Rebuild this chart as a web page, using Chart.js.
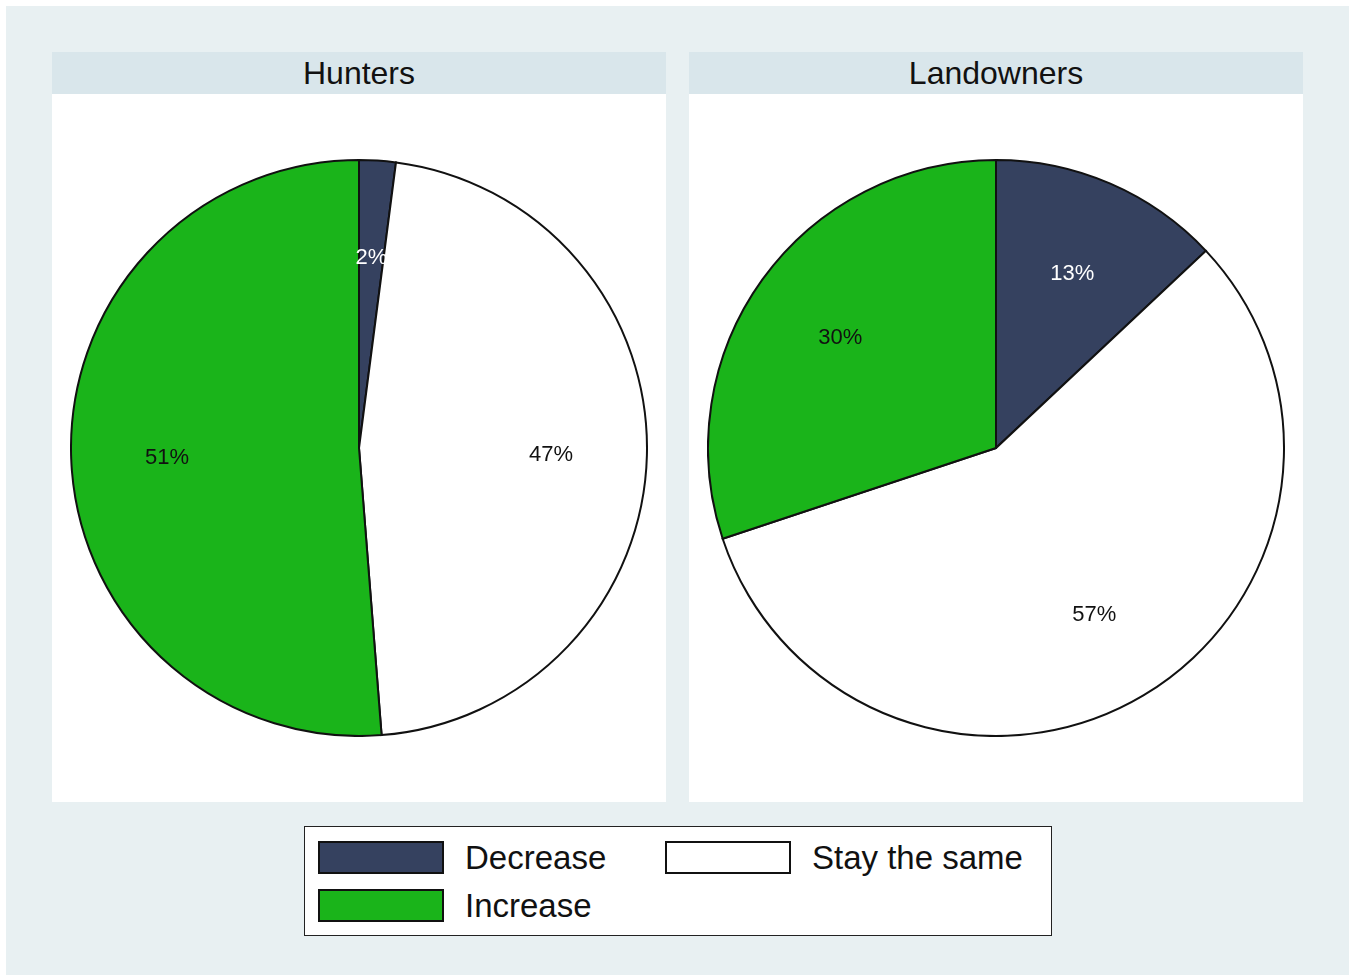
<!DOCTYPE html>
<html>
<head>
<meta charset="utf-8">
<script src="https://cdn.jsdelivr.net/npm/chart.js@4.4.1/dist/chart.umd.min.js"></script>
<style>
  body { margin: 0; background: #fff; font-family: Arial, "Liberation Sans", sans-serif; }
  #outer { position: absolute; left: 6px; top: 6px; width: 1343px; height: 969px; background: #e8f0f2; }
  .panel { position: absolute; top: 52px; width: 614px; height: 750px; background: #fff; }
  .hdr { position: absolute; left: 0; top: 0; width: 100%; height: 42px; background: #d9e6eb;
         text-align: center; line-height: 42px; font-size: 32px; color: #111; }
  .pie { position: absolute; width: 578px; height: 578px; }
  #legend { position: absolute; left: 304px; top: 826px; width: 746px; height: 108px;
            border: 1.5px solid #222; background: #fff; }
  .sw { position: absolute; width: 122px; height: 29px; border: 2px solid #111; }
  .lt { position: absolute; font-size: 33px; color: #111; line-height: 32px; }
</style>
</head>
<body>
<div id="outer"></div>
<div class="panel" style="left:52px"><div class="hdr">Hunters</div>
  <div class="pie" style="left:18px; top:107px"><canvas id="c1"></canvas></div></div>
<div class="panel" style="left:689px"><div class="hdr">Landowners</div>
  <div class="pie" style="left:18px; top:107px"><canvas id="c2"></canvas></div></div>
<div id="legend">
  <div class="sw" style="left:13px; top:14px; background:#35415f"></div>
  <div class="lt" style="left:160px; top:15px">Decrease</div>
  <div class="sw" style="left:360px; top:14px; background:#fff"></div>
  <div class="lt" style="left:507px; top:15px">Stay the same</div>
  <div class="sw" style="left:13px; top:62px; background:#1ab41a"></div>
  <div class="lt" style="left:160px; top:63px">Increase</div>
</div>
<script>
// order of slices, clockwise from 12 o'clock
const categories = ['Decrease', 'Stay the same', 'Increase'];
const colors = ['#35415f', '#ffffff', '#1ab41a'];
const labelColors = ['#ffffff', '#111111', '#111111'];
const hunters = [2.05, 46.7, 51.25];
const landowners = [13.0, 56.9, 30.1];
const huntersLabels = ['2%', '47%', '51%'];
const landownersLabels = ['13%', '57%', '30%'];

const pctLabels = {
  id: 'pctLabels',
  afterDatasetsDraw(chart, args, opts) {
    const ctx = chart.ctx;
    const meta = chart.getDatasetMeta(0);
    ctx.save();
    ctx.font = '22px Arial, "Liberation Sans", sans-serif';
    ctx.textAlign = 'center';
    ctx.textBaseline = 'middle';
    meta.data.forEach((arc, i) => {
      const mid = (arc.startAngle + arc.endAngle) / 2;
      const r = arc.outerRadius * 0.667;
      ctx.fillStyle = labelColors[i];
      ctx.fillText(opts.texts[i], arc.x + Math.cos(mid) * r, arc.y + Math.sin(mid) * r + 2);
    });
    ctx.restore();
  }
};

function makePie(id, values, texts) {
  new Chart(document.getElementById(id), {
    type: 'pie',
    data: {
      labels: categories,
      datasets: [{ data: values, backgroundColor: colors, borderColor: '#111', borderWidth: 2, borderJoinStyle: 'miter' }]
    },
    options: {
      responsive: true,
      maintainAspectRatio: false,
      animation: false,
      layout: { padding: 0 },
      plugins: { legend: { display: false }, tooltip: { enabled: false }, pctLabels: { texts: texts } }
    },
    plugins: [pctLabels]
  });
}

makePie('c1', hunters, huntersLabels);
makePie('c2', landowners, landownersLabels);
</script>
</body>
</html>
